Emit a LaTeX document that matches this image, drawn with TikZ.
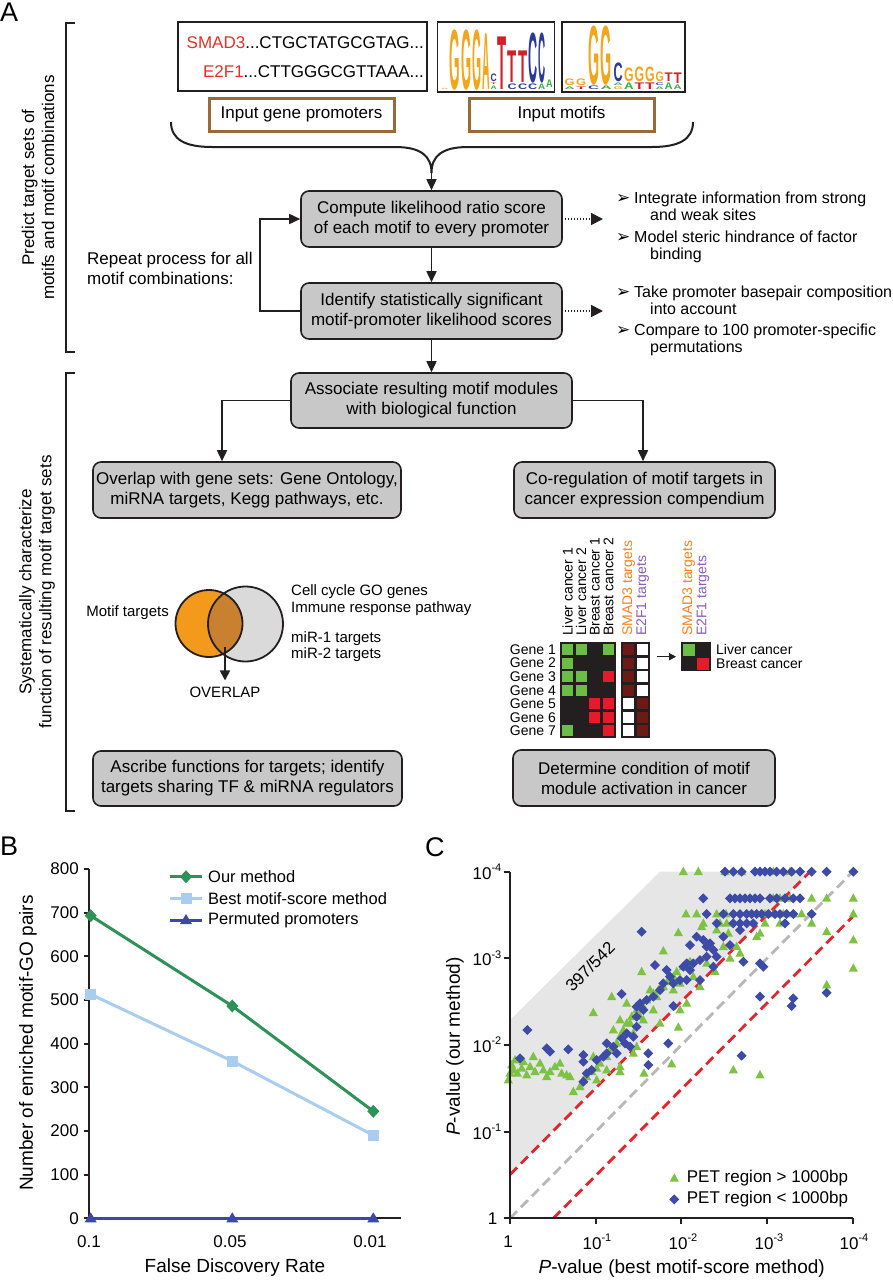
\documentclass[tikz,border=0pt]{standalone}
\usepackage{fontspec}
\usepackage{graphicx}
\setmainfont{Liberation Sans}
\newfontfamily\dejavu{DejaVu Sans}
\usetikzlibrary{arrows.meta,shapes.geometric,calc}
\definecolor{boxgray}{HTML}{C8C8C8}
\definecolor{brownbox}{HTML}{9A6A36}
\definecolor{smadred}{HTML}{E3312B}
\definecolor{lgOr}{HTML}{F3A51B}
\definecolor{lgGr}{HTML}{3DAE49}
\definecolor{lgBl}{HTML}{2B3A96}
\definecolor{lgRd}{HTML}{D2202A}
\definecolor{vennOr}{HTML}{F39A1C}
\definecolor{vennOv}{HTML}{C98130}
\definecolor{vennGr}{HTML}{DADADA}
\definecolor{hGreen}{HTML}{6CBD45}
\definecolor{hRed}{HTML}{E31B2B}
\definecolor{hDark}{HTML}{6B1A16}
\definecolor{hBlack}{HTML}{231F20}
\definecolor{labOr}{HTML}{F58220}
\definecolor{labPu}{HTML}{8A5DB7}
\definecolor{bGreen}{HTML}{2E9158}
\definecolor{bLight}{HTML}{A9CDEE}
\definecolor{bDark}{HTML}{3B48A8}
\definecolor{cGreen}{HTML}{7DC243}
\definecolor{cBlue}{HTML}{3D4AA6}
\definecolor{cRed}{HTML}{E3242B}
\definecolor{cGray}{HTML}{B8B8B8}
\definecolor{cShade}{HTML}{E6E6E6}
\definecolor{ink}{HTML}{231F20}
\newcommand\fs[2]{\fontsize{#1}{#2}\selectfont}
\newcommand\ex[1]{\raisebox{0.45em}{\fs{11}{11}#1}}
\newcommand\lgl[6]{%
  \pgfmathsetmacro\lgw{#3-0.9}\pgfmathsetmacro\lgh{max(#4-1.4,0.8)}%
  \node[inner sep=0pt,anchor=base west] at (#1+0.45,#2-0.7) {\resizebox{\lgw pt}{\lgh pt}{\fs{10}{10}\bfseries\color{#5}#6}};}
\newcommand\tri[3]{\fill[#3] (#1,#2) ++(0,-5) -- ++(4.6,8.4) -- ++(-9.2,0) -- cycle;}
\newcommand\dia[3]{\fill[#3] (#1,#2) ++(0,-5) -- ++(5,5) -- ++(-5,5) -- ++(-5,-5) -- cycle;}
\begin{document}
\begin{tikzpicture}[x=1pt,y=-1pt,
  gbox/.style={draw=ink,fill=boxgray,line width=1.6pt,rounded corners=8pt,align=center,inner sep=0pt,font=\fs{17}{20}},
  brbox/.style={draw=brownbox,line width=3pt,inner sep=0pt,font=\fs{17}{20},minimum width=185pt,minimum height=33pt},
  arr/.style={line width=1.6pt,draw=ink,-{Triangle[length=11pt,width=10pt]}},
  darr/.style={line width=1.8pt,draw=ink,dash pattern=on 1.6pt off 1.4pt,-{Triangle[length=12pt,width=12pt]}},
  txt/.style={inner sep=0pt,font=\fs{17}{20}},
  bracket/.style={line width=2.6pt,draw=ink},
  mat/.style={draw=ink,line width=1.2pt,inner sep=0pt}
]
\fill[white] (0,0) rectangle (892,1280);
\useasboundingbox (0,0) rectangle (892,1280);

% ---------- panel labels
\node[txt,font=\fs{27}{30},anchor=north west] (labA) at (0,3) {A};
\node[txt,font=\fs{27}{30},anchor=north west] (labB) at (0,837) {B};
\node[txt,font=\fs{27}{30},anchor=north west] (labC) at (425,837) {C};

% ---------- brackets
\draw[bracket] (75,23) -- (66,23) -- (66,352) -- (75,352);
\draw[bracket] (75,373) -- (66,373) -- (66,811) -- (75,811);
\node[txt,rotate=90,align=center] (predict) at (38,187.5) {Predict target sets of\\motifs and motif combinations};
\node[txt,rotate=90,align=center] (system) at (37,592) {Systematically characterize\\function of resulting motif target sets};

% ---------- inputs
\node[draw=ink,line width=1.5pt,minimum width=249pt,minimum height=69pt,inner sep=0pt] (prombox) at (302.5,56.5) {};
\node[txt,anchor=east] (seq1) at (424,43) {\textcolor{smadred}{SMAD3}...CTGCTATGCGTAG...};
\node[txt,anchor=east] (seq2) at (424,72) {\textcolor{smadred}{E2F1}...CTTGGGCGTTAAA...};

% logo 1
\lgl{441}{90}{7.5}{2.5}{lgOr}{G}
\lgl{449}{90}{11.5}{61}{lgOr}{G}
\lgl{460.5}{90}{11}{61}{lgOr}{G}
\lgl{471.5}{90}{10}{61}{lgOr}{G}
\lgl{481.5}{90}{8.5}{57}{lgOr}{A}
\lgl{490}{90}{7}{5}{lgGr}{A}
\lgl{490}{85}{7}{3}{lgRd}{T}
\lgl{490}{82}{7}{9}{lgBl}{C}
\lgl{497}{90}{10}{54}{lgRd}{T}
\lgl{507}{90}{10}{7}{lgBl}{C}
\lgl{507}{83}{10}{33}{lgRd}{T}
\lgl{517.5}{90}{10}{7}{lgBl}{C}
\lgl{517.5}{83}{10}{33}{lgRd}{T}
\lgl{527.5}{90}{10}{7}{lgBl}{C}
\lgl{527.5}{83}{10}{51}{lgBl}{C}
\lgl{537.5}{90}{8}{7}{lgGr}{A}
\lgl{537.5}{83}{8}{51}{lgBl}{C}
\lgl{545.5}{88}{7.5}{9}{lgGr}{A}
\node[draw=ink,line width=1.8pt,minimum width=117pt,minimum height=70pt,inner sep=0pt] (logo1) at (496,57) {};
% logo 2
\lgl{564}{90}{11}{4}{lgGr}{A}
\lgl{564}{86}{11}{8}{lgOr}{G}
\lgl{575.5}{90}{11}{4}{lgRd}{T}
\lgl{575.5}{86}{11}{8}{lgOr}{G}
\lgl{587.5}{90}{12}{5}{lgBl}{C}
\lgl{587.5}{85}{12}{60}{lgOr}{G}
\lgl{600}{90}{12}{5}{lgGr}{A}
\lgl{600}{85}{12}{60}{lgOr}{G}
\lgl{613}{90}{10}{4}{lgOr}{G}
\lgl{613}{86}{10}{4}{lgGr}{A}
\lgl{613}{82}{10}{20}{lgBl}{C}
\lgl{623.5}{90}{10.5}{8}{lgGr}{A}
\lgl{623.5}{82}{10.5}{15}{lgOr}{G}
\lgl{634}{90}{10.5}{8}{lgRd}{T}
\lgl{634}{82}{10.5}{16}{lgOr}{G}
\lgl{644.5}{90}{10.5}{8}{lgRd}{T}
\lgl{644.5}{82}{10.5}{16}{lgOr}{G}
\lgl{655}{90}{9}{4}{lgGr}{A}
\lgl{655}{86}{9}{4}{lgBl}{C}
\lgl{655}{82}{9}{11}{lgOr}{G}
\lgl{664}{90}{9}{8}{lgGr}{A}
\lgl{664}{82}{9}{10}{lgRd}{T}
\lgl{673}{90}{9}{6}{lgGr}{A}
\lgl{673}{84}{9}{12}{lgRd}{T}
\node[draw=ink,line width=1.8pt,minimum width=123pt,minimum height=70pt,inner sep=0pt] (logo2) at (623.5,57) {};

\node[brbox] (inprom) at (301.5,114.5) {Input gene promoters};
\node[brbox] (inmot) at (561.5,114.5) {Input motifs};

% brace
\draw[line width=2pt,ink] (171,122) .. controls (171,140) and (186,147) .. (212,147) -- (395,147) .. controls (421,147) and (431.5,156) .. (431.5,173) .. controls (431.5,156) and (442,147) .. (468,147) -- (652,147) .. controls (678,147) and (693,140) .. (693,122);
\coordinate (cusp) at (431.5,173);

% ---------- flow boxes
\node[gbox,minimum width=261pt,minimum height=56pt] (compute) at (431.5,219) {Compute likelihood ratio score\\of each motif to every promoter};
\node[gbox,minimum width=261pt,minimum height=56pt] (identify) at (431.5,311) {Identify statistically significant\\motif-promoter likelihood scores};
\node[gbox,minimum width=281pt,minimum height=55pt] (assoc) at (431.5,400.5) {Associate resulting motif modules\\with biological function};
\node[gbox,minimum width=308pt,minimum height=56pt] (overlap) at (247,490) {Overlap with gene sets: Gene Ontology,\\miRNA targets, Kegg pathways, etc.};
\node[gbox,minimum width=261pt,minimum height=56pt] (coreg) at (644.5,490) {Co-regulation of motif targets in\\cancer expression compendium};
\node[gbox,minimum width=309pt,minimum height=55pt] (ascribe) at (247.5,778.5) {Ascribe functions for targets; identify\\targets sharing TF \& miRNA regulators};
\node[gbox,minimum width=262pt,minimum height=56pt] (determine) at (644,778) {Determine condition of motif\\module activation in cancer};

\draw[arr] (cusp) -- (compute.north);
\draw[arr] (compute.south) -- (identify.north);
\draw[arr] (identify.south) -- (assoc.north);
\coordinate (loopB) at (260,311);
\coordinate (loopT) at (260,219);
\draw[arr] (identify.west) -- (loopB) -- (loopT) -- (compute.west);
\coordinate (brL) at (222,400.5);
\coordinate (brR) at (643,400.5);
\draw[arr] (assoc.west) -- (brL) -- (brL |- overlap.north);
\draw[arr] (assoc.east) -- (brR) -- (brR |- coreg.north);
\coordinate (dA) at (603,219);
\coordinate (dB) at (603,311);
\draw[darr] ([xshift=2pt]compute.east) -- (dA);
\draw[darr] ([xshift=2pt]identify.east) -- (dB);

\node[txt,anchor=west,align=left] (repeat) at (87,268) {Repeat process for all\\motif combinations:};

\node[txt,font=\fs{16}{17},anchor=west,align=left] (bul1) at (616,206.5) {\makebox[18pt][l]{\dejavu\fs{17}{17}➢}Integrate information from strong\\\hspace*{34pt}and weak sites};
\node[txt,font=\fs{16}{17},anchor=west,align=left] (bul2) at (616,246.5) {\makebox[18pt][l]{\dejavu\fs{17}{17}➢}Model steric hindrance of factor\\\hspace*{34pt}binding};
\node[txt,font=\fs{16}{17},anchor=west,align=left] (bul3) at (616,300) {\makebox[18pt][l]{\dejavu\fs{17}{17}➢}Take promoter basepair composition\\\hspace*{34pt}into account};
\node[txt,font=\fs{16}{17},anchor=west,align=left] (bul4) at (616,339.5) {\makebox[18pt][l]{\dejavu\fs{17}{17}➢}Compare to 100 promoter-specific\\\hspace*{34pt}permutations};

% ---------- Venn
\coordinate (vo) at (209,623.5);
\coordinate (vg) at (245.5,624);
\fill[vennGr] (vg) circle (37.5);
\fill[vennOr] (vo) circle (33.5);
\begin{scope}
\clip (vo) circle (33.5);
\fill[vennOv] (vg) circle (37.5);
\end{scope}
\draw[line width=1.8pt,ink] (vo) circle (33.5) (vg) circle (37.5);
\node[txt,font=\fs{15}{17},anchor=east] (motiftargets) at (169,613) {Motif targets};
\node[txt,font=\fs{15}{16.5},anchor=west,align=left] (setsA) at (291,600) {Cell cycle GO genes\\Immune response pathway};
\node[txt,font=\fs{15}{16.5},anchor=west,align=left] (setsB) at (291,646.5) {miR-1 targets\\miR-2 targets};
\node[txt,font=\fs{15}{17}] (ovlab) at (225,692) {OVERLAP};
\coordinate (ovstart) at (225,647);
\draw[line width=1.6pt,ink,-{Triangle[length=10pt,width=10pt]},shorten >=6pt] (ovstart) -- (ovlab.north);

% ---------- heatmap
\fill[hBlack] (560.7,642.7) rectangle (615.3,737.7);
\foreach \c/\r/\col in {0/0/hGreen,1/0/hGreen,3/0/hGreen,0/1/hGreen,0/2/hGreen,1/2/hGreen,3/2/hRed,0/3/hGreen,1/3/hGreen,2/4/hRed,3/4/hRed,2/5/hRed,3/5/hRed,0/6/hGreen,3/6/hRed}
  \fill[\col] ({560.7+\c*13.65+1.3},{642.7+\r*13.57+1.3}) rectangle ++(11.05,10.97);
\fill[hBlack] (621.7,642.7) rectangle (649.7,737.7);
\foreach \r in {0,1,2,3} {
  \fill[hDark] ({621.7+1.3},{642.7+\r*13.57+1.3}) rectangle ++(11.4,10.97);
  \fill[white] ({635.7+1.3},{642.7+\r*13.57+1.3}) rectangle ++(11.4,10.97);}
\foreach \r in {4,5,6} {
  \fill[white] ({621.7+1.3},{642.7+\r*13.57+1.3}) rectangle ++(11.4,10.97);
  \fill[hDark] ({635.7+1.3},{642.7+\r*13.57+1.3}) rectangle ++(11.4,10.97);}
\fill[hBlack] (681.7,642.7) rectangle (710,670.7);
\fill[hGreen] (683,644) rectangle ++(11.5,11.5);
\fill[hRed] (697.2,658) rectangle ++(11.5,11.5);
\node[mat,minimum width=54.6pt,minimum height=95pt] (mmat) at (588,690.2) {};
\node[mat,minimum width=28pt,minimum height=95pt] (tmat) at (635.7,690.2) {};
\node[mat,minimum width=28.3pt,minimum height=28pt] (rmat) at (695.85,656.7) {};
\draw[line width=1.3pt,ink,-{Triangle[length=7pt,width=7pt]}] ([xshift=7pt]tmat.east |- rmat.west) -- ([xshift=-5pt]rmat.west);
\foreach \i in {1,...,7}
  \node[txt,font=\fs{14}{16},anchor=east] (gene\i) at (556,{642.7+(\i-0.5)*13.57}) {Gene \i};
\node[txt,font=\fs{14}{16},anchor=west] (liver) at (716,649.5) {Liver cancer};
\node[txt,font=\fs{14}{16},anchor=west] (breast) at (716,663.5) {Breast cancer};
\node[txt,font=\fs{14}{16},rotate=90,anchor=west] (cl1) at (567.5,636) {Liver cancer 1};
\node[txt,font=\fs{14}{16},rotate=90,anchor=west] (cl2) at (581.2,636) {Liver cancer 2};
\node[txt,font=\fs{14}{16},rotate=90,anchor=west] (cl3) at (594.8,636) {Breast cancer 1};
\node[txt,font=\fs{14}{16},rotate=90,anchor=west] (cl4) at (608.5,636) {Breast cancer 2};
\node[txt,font=\fs{14}{16},rotate=90,anchor=west,text=labOr] (cl5) at (628.7,636) {SMAD3 targets};
\node[txt,font=\fs{14}{16},rotate=90,anchor=west,text=labPu] (cl6) at (642.7,636) {E2F1 targets};
\node[txt,font=\fs{14}{16},rotate=90,anchor=west,text=labOr] (cl7) at (688.8,636) {SMAD3 targets};
\node[txt,font=\fs{14}{16},rotate=90,anchor=west,text=labPu] (cl8) at (703,636) {E2F1 targets};

% ---------- panel B
\draw[line width=2pt,ink] (89.3,869) -- (89.3,1218.3) -- (401,1218.3);
\foreach \v in {0,100,...,800} {
  \draw[line width=2pt,ink] (83.5,{1218.3-\v*0.4366}) -- (89.3,{1218.3-\v*0.4366});
  \node[txt,anchor=east] (yt\v) at (79,{1218.3-\v*0.4366}) {\v};}
\node[txt] (xt1) at (89,1242) {0.1};
\node[txt] (xt2) at (230,1242) {0.05};
\node[txt] (xt3) at (370,1242) {0.01};
\node[txt,font=\fs{19}{21}] (bxl) at (235,1268) {False Discovery Rate};
\node[txt,font=\fs{19}{21},rotate=90] (byl) at (28,1043) {Number of enriched motif-GO pairs};
\draw[line width=3pt,bLight] (90.7,994.3) -- (232.3,1061.1) -- (373.3,1135.3);
\draw[line width=3pt,bGreen] (90.7,915.7) -- (232.3,1006) -- (373.3,1111.3);
\draw[line width=3pt,bDark] (90.7,1218.3) -- (373.3,1218.3);
\foreach \px/\py in {90.7/994.3,232.3/1061.1,373.3/1135.3}
  \fill[bLight] (\px-5.5,\py-5.5) rectangle ++(11,11);
\foreach \px/\py in {90.7/915.7,232.3/1006,373.3/1111.3}
  \fill[bGreen] (\px,\py) ++(0,-6.5) -- ++(6,6.5) -- ++(-6,6.5) -- ++(-6,-6.5) -- cycle;
\foreach \px in {90.7,232.3,373.3}
  \fill[bDark] (\px,1218.3) ++(0,-6) -- ++(6,10) -- ++(-12,0) -- cycle;
% legend B
\draw[line width=3pt,bGreen] (170,876.7) -- (202,876.7);
\fill[bGreen] (186,876.7) ++(0,-6.5) -- ++(6,6.5) -- ++(-6,6.5) -- ++(-6,-6.5) -- cycle;
\draw[line width=3pt,bLight] (170,898.3) -- (202,898.3);
\fill[bLight] (180.5,892.8) rectangle ++(11,11);
\draw[line width=3pt,bDark] (170,920) -- (202,920);
\fill[bDark] (186,920) ++(0,-6) -- ++(6,10) -- ++(-12,0) -- cycle;
\node[txt,font=\fs{16.5}{19},anchor=west] (lgb1) at (208,876.7) {Our method};
\node[txt,font=\fs{16.5}{19},anchor=west] (lgb2) at (208,898.3) {Best motif-score method};
\node[txt,font=\fs{16.5}{19},anchor=west] (lgb3) at (208,920) {Permuted promoters};

% ---------- panel C
\fill[cShade] (510,1174.6) -- (510,1020) -- (660,871.7) -- (810,871.7) -- cycle;
\draw[line width=2.8pt,cGray,dash pattern=on 10pt off 5.5pt] (510,1218.3) -- (852.7,871.7);
\draw[line width=2.8pt,cRed,dash pattern=on 10pt off 5.5pt] (510,1174.6) -- (810,871.7);
\draw[line width=2.8pt,cRed,dash pattern=on 10pt off 5.5pt] (553.3,1218.3) -- (852.7,916.7);
\node[txt,rotate=45] (ratio) at (590,966.7) {397/542};
% triangles
\foreach \a/\b in {730/245,775/245,855/245,905/245,1000/245,1050/245,
1000/325,1020/325,1050/325,1115/325,1160/325,1240/325,
738/372,770/372,830/372,858/372,975/372,1000/372,1030/372,1060/372,1085/372,1240/372,
790/400,840/400,860/400,975/400,1020/400,1115/400,
1160/425,1240/450,1240/535,1160/585,880/840,960/855,
715/428,670/483,605/545,515/620,460/668,660/700,715/712,695/822,612/850,
785/410,830/420,865/430,890/470,900/490,870/505,825/545,780/590,740/640,720/660,650/620,600/640,560/640,540/690,570/700,600/680,630/600,690/560,700/600,720/580,760/560,800/520,850/470,950/440,960/430,
400/905,420/890,430/870,440/860,455/845,470/835,480/820,500/800,510/780,530/760,540/740,550/720,560/700,575/680,590/660,610/650,620/630,640/610,655/600,670/590,685/575,700/560,710/545,730/530,750/515,580/790,590/770,540/830,540/845,470/870,460/800,500/840,610/690,640/660,580/730,520/720,
215/825,220/840,225/810,232/850,245/835,260/855,270/830,280/800,285/845,300/820,310/840,320/860,330/845,345/830,360/820,365/850,380/855,390/860,205/870,210/850,250/815}
  {\tri{440+\a/3}{790+\b/3}{cGreen}}
% diamonds
\foreach \a/\b in {855/245,880/245,905/245,945/245,960/245,975/245,990/245,1010/245,1030/245,1055/245,1080/245,1115/245,1160/245,1240/245,
790/325,870/325,885/325,900/325,915/325,930/325,945/325,960/325,990/325,1010/325,1035/325,1060/325,1080/325,
800/372,850/372,880/372,900/372,920/372,935/372,950/372,965/372,985/372,1005/372,1020/372,1040/372,1060/372,1115/372,
830/400,880/400,900/400,920/400,940/400,1035/400,
605/425,750/465,770/440,790/450,800/470,810/460,820/480,830/500,800/500,780/510,760/520,740/520,730/530,750/540,740/570,720/570,700/580,690/560,670/580,660/600,640/620,620/630,600/640,590/650,680/540,780/570,820/530,870/465,850/440,900/420,910/515,960/520,970/530,645/525,545/612,700/648,590/680,560/730,545/745,555/760,570/770,580/740,520/770,500/790,490/800,470/810,455/840,440/850,430/875,430/795,430/815,500/760,530/790,625/790,625/825,685/760,905/797,960/620,1060/625,1055/648,1160/608,262/720,240/805,320/775,330/785,385/778,590/710,610/660}
  {\dia{440+\a/3}{790+\b/3}{cBlue}}
% axes C
\draw[line width=2pt,ink] (510,871.7) -- (510,1218.3) -- (852.7,1218.3);
\foreach \yy in {871.7,958.3,1045,1131.7,1218.3}
  \draw[line width=2pt,ink] (503.5,\yy) -- (510,\yy);
\foreach \xx in {510,595.7,681.3,767.3,852.7}
  \draw[line width=2pt,ink] (\xx,1218.3) -- (\xx,1224);
\node[txt,anchor=east] (cy4) at (501.5,871.7) {10\ex{-4}};
\node[txt,anchor=east] (cy3) at (501.5,958.3) {10\ex{-3}};
\node[txt,anchor=east] (cy2) at (501.5,1045) {10\ex{-2}};
\node[txt,anchor=east] (cy1) at (501.5,1131.7) {10\ex{-1}};
\node[txt,anchor=east] (cy0) at (497.5,1218.3) {1};
\node[txt] (cx0) at (508,1241.7) {1};
\node[txt] (cx1) at (597,1241.7) {10\ex{-1}};
\node[txt] (cx2) at (683,1241.7) {10\ex{-2}};
\node[txt] (cx3) at (769,1241.7) {10\ex{-3}};
\node[txt] (cx4) at (854,1241.7) {10\ex{-4}};
\node[txt,font=\fs{19}{21}] (cxl) at (681.7,1268.3) {\textit{P}-value (best motif-score method)};
\node[txt,font=\fs{19}{21},rotate=90] (cyl) at (455,1046.7) {\textit{P}-value (our method)};
% legend C
\tri{674.3}{1178.3}{cGreen}
\dia{674.3}{1199.3}{cBlue}
\node[txt,anchor=west] (lgc1) at (686.7,1178.3) {PET region > 1000bp};
\node[txt,anchor=west] (lgc2) at (686.7,1199.3) {PET region < 1000bp};
\end{tikzpicture}
\end{document}
